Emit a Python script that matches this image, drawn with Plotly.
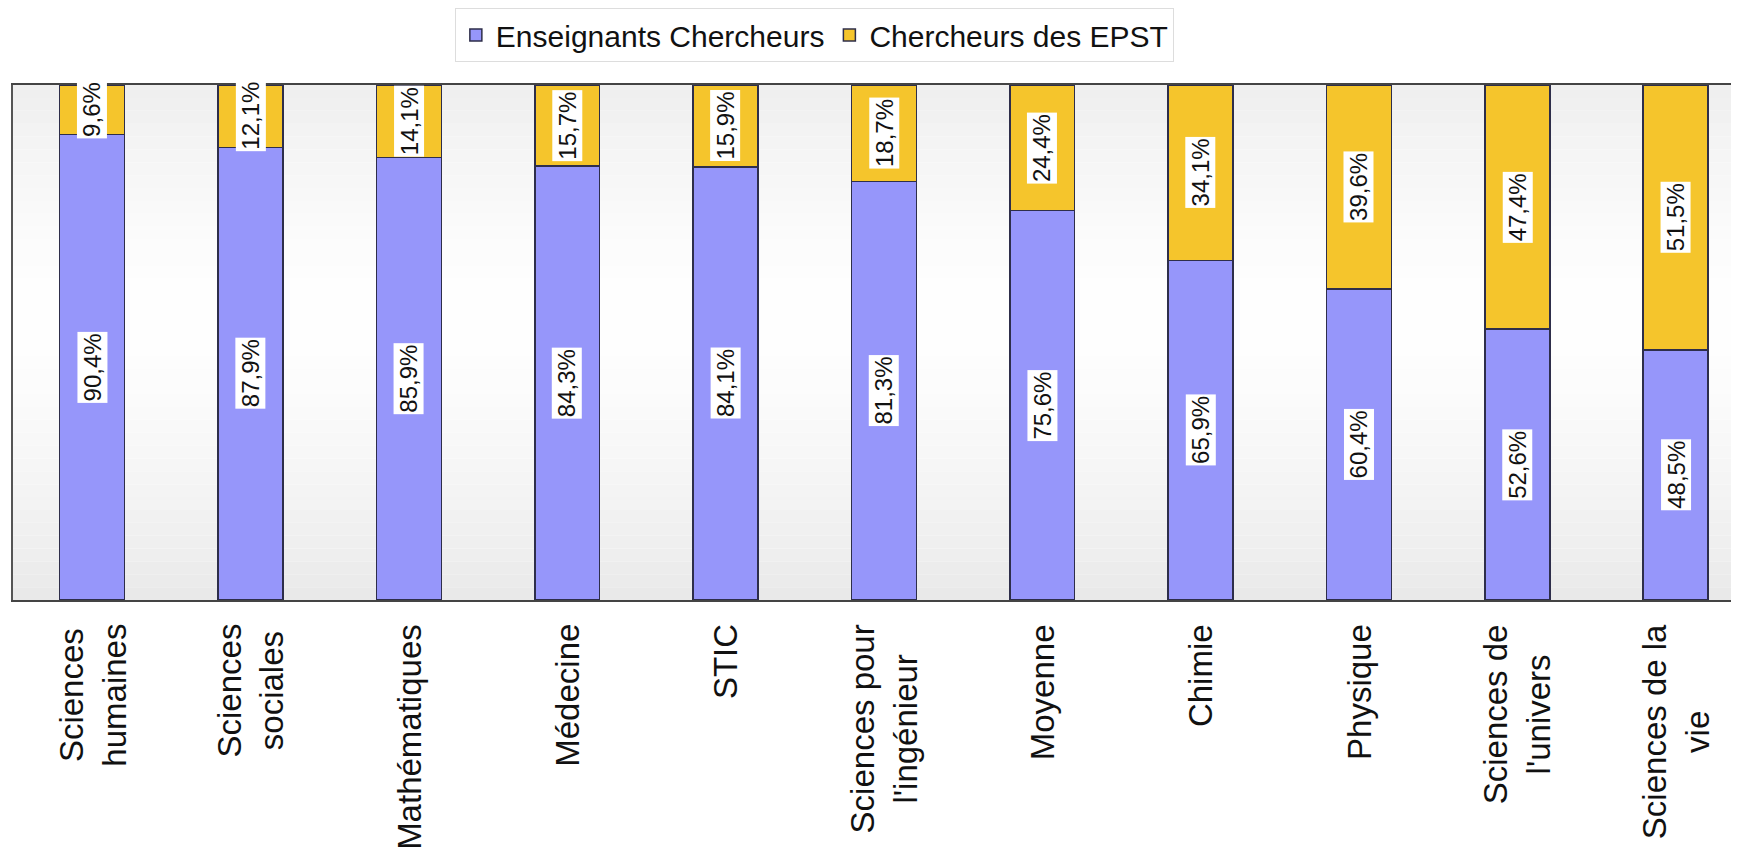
import plotly.graph_objects as go

categories = ["Sciences<br>humaines", "Sciences<br>sociales", "Mathématiques", "Médecine", "STIC",
              "Sciences pour<br>l'ingénieur", "Moyenne", "Chimie", "Physique",
              "Sciences de<br>l'univers", "Sciences de la<br>vie"]
enseignants = [90.4, 87.9, 85.9, 84.3, 84.1, 81.3, 75.6, 65.9, 60.4, 52.6, 48.5]
epst = [9.6, 12.1, 14.1, 15.7, 15.9, 18.7, 24.4, 34.1, 39.6, 47.4, 51.5]
series_names = ["Enseignants Chercheurs", "Chercheurs des EPST"]

BLUE = "#9696FA"
YELLOW = "#F5C52C"
OUT = "#2E2E4A"
FONT = "Liberation Sans, Arial, sans-serif"

xs = list(range(len(categories)))

fig = go.Figure()
fig.add_trace(go.Bar(x=xs, y=enseignants, name=series_names[0],
                     marker=dict(color=BLUE, line=dict(color=OUT, width=1.5))))
fig.add_trace(go.Bar(x=xs, y=epst, name=series_names[1],
                     marker=dict(color=YELLOW, line=dict(color=OUT, width=1.5))))

def fmt(v):
    return f"{v:.1f}%".replace(".", ",")

ann = []
for i, (a, b) in enumerate(zip(enseignants, epst)):
    ann.append(dict(x=i, y=a / 2, xref="x", yref="y", text=fmt(a), textangle=-90,
                    showarrow=False, bgcolor="white", borderpad=1,
                    font=dict(family=FONT, size=24, color="#111")))
    ann.append(dict(x=i, y=a + b / 2, xref="x", yref="y", text=fmt(b), textangle=-90,
                    showarrow=False, bgcolor="white", borderpad=1,
                    font=dict(family=FONT, size=24, color="#111")))
for i, c in enumerate(categories):
    ann.append(dict(x=i, y=0, xref="x", yref="paper", yanchor="top", yshift=-22,
                    text=c, textangle=-90, showarrow=False, align="center",
                    font=dict(family=FONT, size=33, color="#111")))

# vertical background gradient (light gray -> white -> light gray)
shapes = []
n = 40
for k in range(n):
    t = (k + 0.5) / n  # 0 bottom, 1 top
    d = abs(t - 0.55) / 0.55
    g = int(255 - 22 * d ** 1.5)
    shapes.append(dict(type="rect", xref="x domain", yref="y domain",
                       x0=0, x1=1, y0=k / n, y1=(k + 1) / n, layer="below",
                       line=dict(width=0), fillcolor=f"rgb({g},{g},{g})"))

fig.update_layout(
    width=1731, height=859,
    margin=dict(l=5, r=0, t=75, b=267),
    barmode="stack", bargap=0.59,
    paper_bgcolor="white", plot_bgcolor="white",
    showlegend=True,
    legend=dict(orientation="h", x=0.256, xanchor="left", y=1.097, yanchor="middle",
                font=dict(family=FONT, size=30, color="#111"),
                bordercolor="#dddddd", borderwidth=1, bgcolor="white",
                itemwidth=30, traceorder="normal"),
    xaxis=dict(range=[-0.5, 10.4], showticklabels=False, ticks="", showgrid=False,
               zeroline=False, showline=True, linecolor="#444", linewidth=2, mirror=True),
    yaxis=dict(range=[0, 100], showticklabels=False, ticks="", showgrid=False,
               zeroline=False, showline=True, linecolor="#555", linewidth=2),
    annotations=ann, shapes=shapes,
)

fig.write_html("out.html")
